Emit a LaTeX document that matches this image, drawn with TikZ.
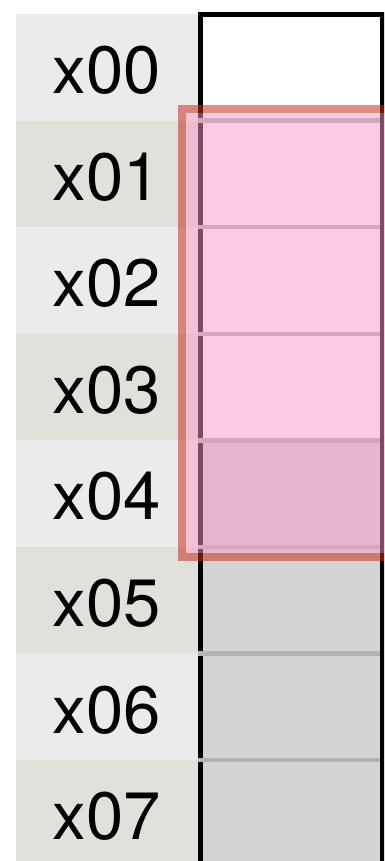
\documentclass[tikz,border=0pt]{standalone}
\usepackage{fontspec}
\setmainfont{TeX Gyre Heros}
\definecolor{lblA}{HTML}{EBEBEB}
\definecolor{lblB}{HTML}{E1E1DC}
\definecolor{cellgray}{HTML}{D4D4D4}
\definecolor{sepgray}{HTML}{B4B4B4}
\definecolor{hlfill}{RGB}{249,152,202}
\definecolor{hlborder}{RGB}{195,50,30}
\tikzset{
  lbl/.style={anchor=base, font=\fontsize{67}{70}\selectfont, inner sep=0pt},
  cellborder/.style={draw=black, line width=5pt, line join=miter},
  sepline/.style={draw=sepgray, line width=4.5pt},
  hlbox/.style={draw=hlborder, draw opacity=0.55, line width=8pt},
  hlarea/.style={fill=hlfill, fill opacity=0.5}
}
\begin{document}
\begin{tikzpicture}[x=1pt,y=-1pt]
\useasboundingbox (0,0) rectangle (384,861);
\clip (0,0) rectangle (384,861);
\foreach \i/\lc/\cc in {0/lblA/white,1/lblB/white,2/lblA/white,3/lblB/white,4/lblA/cellgray,5/lblB/cellgray,6/lblA/cellgray,7/lblB/cellgray} {
  \pgfmathsetmacro\rtop{14+106.6*\i}
  \pgfmathsetmacro\rbot{14+106.6*(\i+1)}
  \fill[\lc] (16,\rtop) rectangle (200,\rbot);
  \fill[\cc] (200,\rtop) rectangle (383,\rbot);
  \node[lbl] (l\i) at (107,\rtop+79.5) {x0\i};
}
\draw[cellborder] (200.3,880) -- (200.3,14.3) -- (382.8,14.3) -- (382.8,880);
\foreach \i in {1,...,7} {
  \pgfmathsetmacro\ry{14+106.6*\i}
  \draw[sepline] (197.5,\ry) -- (380.3,\ry);
}
\fill[hlarea] (186,113) rectangle (400,553);
\draw[hlbox] (182,109) rectangle (410,557);
\end{tikzpicture}
\end{document}
